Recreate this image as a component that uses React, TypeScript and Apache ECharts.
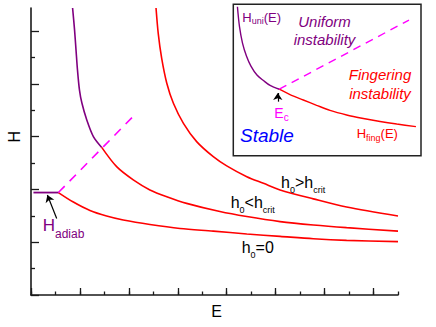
import React, { useEffect, useRef } from 'react';
import * as echarts from 'echarts';

const FONT = '"Liberation Sans", Arial, Helvetica, sans-serif';
const AX = '#1a1a1a';
const RED = '#ff0000';
const PURPLE = '#800080';
const MAGENTA = '#ff00ff';
const K = 0.3465;

// ---------- main plot (E and H in tick units) ----------
const xMax = 15;
const yMax = 10.87;

const hAdiabLine: [number, number][] = [[0.1, 3.88], [1.12, 3.88]];

const curveH0Zero: [number, number][] = [
  [1.12, 3.88], [1.73, 3.52], [2.41, 3.2], [3.09, 2.99], [3.77, 2.84], [4.86, 2.67],
  [6.09, 2.52], [7.45, 2.42], [8.82, 2.31], [10.18, 2.22], [11.54, 2.13], [12.9, 2.07], [15, 2.02],
];

const curveBelowUni: [number, number][] = [
  [1.70, 10.87], [1.78, 10.04], [1.84, 9.28], [1.90, 8.52], [1.98, 7.77], [2.08, 7.27],
  [2.28, 6.63], [2.55, 6.0], [2.89, 5.59],
];

const curveBelowFing: [number, number][] = [
  [2.89, 5.59], [3.5, 4.86], [4.18, 4.36], [4.86, 3.98], [5.55, 3.72], [6.36, 3.47],
  [7.72, 3.16], [8.82, 2.97], [10.18, 2.78], [11.54, 2.65], [12.9, 2.55], [15, 2.42],
];

const curveAbove: [number, number][] = [
  [5.11, 10.87], [5.2, 9.91], [5.34, 8.97], [5.55, 8.02], [5.82, 7.26], [6.23, 6.5],
  [6.77, 5.81], [7.45, 5.24], [8.0, 4.89], [8.82, 4.48], [9.5, 4.23], [10.18, 3.98],
  [11.54, 3.64], [12.9, 3.33], [15, 2.99],
];

const crossoverLine: [number, number][] = [[1.12, 3.88], [4.16, 6.75]];
const adiabArrow: [number, number][] = [[1.05, 2.9], [0.67, 3.79]];

// ---------- inset (arbitrary 0..100 units) ----------
const insetUni: [number, number][] = [
  [2.2, 98.4], [3.3, 85.2], [4.9, 74.4], [7.0, 65.9], [9.4, 59.2], [12.6, 53.3],
  [16.0, 49.7], [19.6, 46.4], [24.5, 43.9],
];
const insetFing: [number, number][] = [
  [24.5, 43.9], [30.2, 40.3], [37.3, 36.8], [44.4, 33.3], [51.5, 29.9], [60.4, 26.9],
  [69.3, 24.6], [78.2, 22.6], [87.1, 20.9], [97.3, 19.2],
];
const insetCross: [number, number][] = [[24.5, 43.9], [93.6, 89.6]];
const insetArrow: [number, number][] = [[23.7, 35.7], [23.7, 41.4]];

// ---------- helpers ----------
function lineSeries(data: [number, number][], color: string, idx: number, dash?: number[], width = 1.6) {
  return {
    type: 'line',
    xAxisIndex: idx,
    yAxisIndex: idx,
    data,
    symbol: 'none',
    smooth: dash ? false : 0.3,
    silent: true,
    clip: false,
    lineStyle: { color, width, type: dash ? dash : 'solid' },
    z: 5,
  } as any;
}

function arrowMark(pts: [number, number][]) {
  return {
    silent: true,
    symbol: ['none', 'arrow'],
    symbolSize: 7,
    label: { show: false },
    lineStyle: { color: '#000', width: 1.2, type: 'solid' },
    emphasis: { disabled: true },
    data: [[{ coord: pts[0] }, { coord: pts[1] }]],
  } as any;
}

function richLabel(
  parts: [string, boolean][], F: number, S: number, color: string,
  left: number, baseMain: number, baseSub: number,
) {
  const top = baseMain - (0.5 + K) * F;
  const pad = baseSub - (0.5 + K) * S - top;
  return {
    type: 'text',
    x: left,
    y: top,
    z: 20,
    silent: true,
    style: {
      text: parts.map(([t, s]) => `{${s ? 's' : 'm'}|${t}}`).join(''),
      align: 'left',
      verticalAlign: 'top',
      fill: color,
      fontFamily: FONT,
      fontSize: F,
      rich: {
        m: { fontSize: F, lineHeight: F, fontFamily: FONT, fill: color, verticalAlign: 'top' },
        s: { fontSize: S, lineHeight: S, fontFamily: FONT, fill: color, verticalAlign: 'top', padding: [pad, 0, 0, 0] },
      },
    },
  } as any;
}

function plainLabel(text: string, F: number, color: string, x: number, base1: number, lh: number, align: string, italic: boolean) {
  const top = base1 - K * F - lh / 2;
  return {
    type: 'text',
    x,
    y: top,
    z: 20,
    silent: true,
    style: {
      text,
      align,
      verticalAlign: 'top',
      fill: color,
      fontFamily: FONT,
      fontSize: F,
      fontStyle: italic ? 'italic' : 'normal',
      lineHeight: lh,
    },
  } as any;
}

const option: any = {
  animation: false,
  backgroundColor: '#ffffff',
  grid: [
    { left: 31, top: 8, width: 367, height: 287, outerBoundsMode: 'none', containLabel: false },
    { left: 31, top: 31, width: (367 * 14) / 15, height: 264, outerBoundsMode: 'none', containLabel: false },
    {
      left: 233.3, top: 4.3, width: 187.7, height: 151.4, outerBoundsMode: 'none', containLabel: false,
      show: true, backgroundColor: '#ffffff', borderColor: '#222', borderWidth: 1.5, z: 1,
    },
  ],
  xAxis: [
    {
      gridIndex: 0, type: 'value', min: 0, max: xMax, interval: 1,
      name: 'E', nameLocation: 'middle', nameGap: 8,
      nameTextStyle: { fontFamily: FONT, fontSize: 16, color: '#000', padding: [0, 0, 0, 4] },
      axisLine: { show: true, onZero: false, lineStyle: { color: AX, width: 1.6 } },
      axisTick: { show: true, inside: true, length: 3.5, lineStyle: { color: AX, width: 1.3 } },
      axisLabel: { show: false }, splitLine: { show: false },
    },
    {
      gridIndex: 1, type: 'value', min: 0, max: 14, interval: 2,
      axisLine: { show: false },
      axisTick: { show: true, inside: true, length: 7, lineStyle: { color: AX, width: 1.3 } },
      axisLabel: { show: false }, splitLine: { show: false },
    },
    { gridIndex: 2, type: 'value', min: 0, max: 100, show: false },
  ],
  yAxis: [
    {
      gridIndex: 0, type: 'value', min: 0, max: yMax,
      axisLine: { show: true, onZero: false, lineStyle: { color: AX, width: 1.6 } },
      axisTick: { show: false }, axisLabel: { show: false }, splitLine: { show: false },
    },
    {
      gridIndex: 1, type: 'value', min: 0, max: 10, interval: 2,
      axisLine: { show: false },
      axisTick: { show: true, inside: true, length: 8, lineStyle: { color: AX, width: 1.3 } },
      minorTick: { show: true, splitNumber: 2, length: 4, lineStyle: { color: AX, width: 1.3 } },
      axisLabel: { show: false }, splitLine: { show: false }, minorSplitLine: { show: false },
    },
    { gridIndex: 2, type: 'value', min: 0, max: 100, show: false },
  ],
  series: [
    lineSeries(curveH0Zero, RED, 0),
    lineSeries(curveBelowUni, PURPLE, 0),
    lineSeries(curveBelowFing, RED, 0),
    lineSeries(curveAbove, RED, 0),
    lineSeries(crossoverLine, MAGENTA, 0, [9, 7], 1.6),
    { ...lineSeries(hAdiabLine, PURPLE, 0, undefined, 1.8), markLine: arrowMark(adiabArrow) },
    lineSeries(insetUni, PURPLE, 2, undefined, 1.4),
    { ...lineSeries(insetFing, RED, 2, undefined, 1.4), markLine: arrowMark(insetArrow) },
    lineSeries(insetCross, MAGENTA, 2, [8, 6], 1.4),
  ],
  graphic: [
    {
      type: 'text', x: 14.2, y: 136.7, rotation: Math.PI / 2, z: 20, silent: true,
      style: { text: 'H', fontFamily: FONT, fontSize: 16, fill: '#000', align: 'center', verticalAlign: 'middle' },
    },
    richLabel([['h', false], ['0', true], ['>h', false], ['crit', true]], 16, 9, '#000', 281, 188.3, 193.3),
    richLabel([['h', false], ['0', true], ['<h', false], ['crit', true]], 16, 9, '#000', 230.7, 208.3, 213),
    richLabel([['h', false], ['0', true], ['=0', false]], 16, 9, '#000', 241.7, 253.3, 258),
    richLabel([['H', false], ['adiab', true]], 17, 12, PURPLE, 42.7, 231.7, 238.3),
    richLabel([['H', false], ['uni', true], ['(E)', false]], 13, 9, PURPLE, 242.3, 21.7, 24.5),
    richLabel([['E', false], ['c', true]], 14, 10, MAGENTA, 274.3, 117.7, 120.7),
    richLabel([['H', false], ['fing', true], ['(E)', false]], 13, 9, RED, 356.7, 138.3, 141.5),
    plainLabel('Uniform\ninstability', 15, PURPLE, 324.5, 26.7, 18.3, 'center', true),
    plainLabel('Fingering\ninstability', 15, RED, 380, 80, 18.3, 'center', true),
    plainLabel('Stable', 19, '#0000ff', 240, 141.7, 19, 'left', true),
  ],
};

export default function App() {
  const ref = useRef<HTMLDivElement>(null);
  useEffect(() => {
    const chart = echarts.init(ref.current!, null, { renderer: 'svg', width: 436, height: 327 });
    chart.setOption(option);
    return () => chart.dispose();
  }, []);
  return <div ref={ref} style={{ width: 436, height: 327, position: 'absolute', left: 0, top: 0 }} />;
}
